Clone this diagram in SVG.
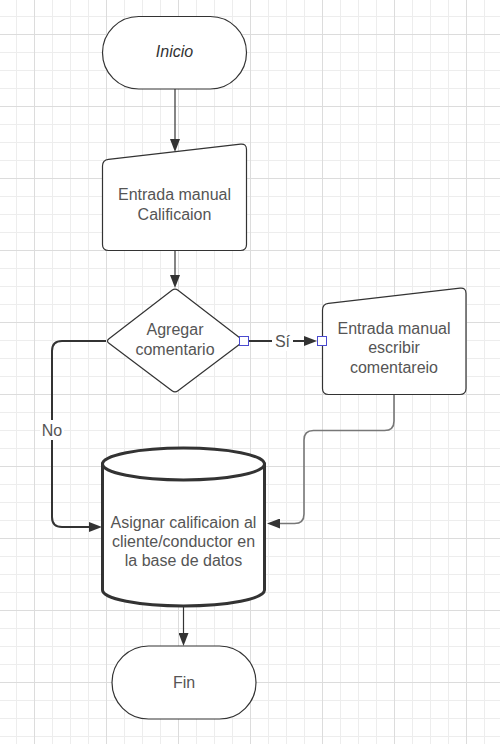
<svg xmlns="http://www.w3.org/2000/svg" width="500" height="744" viewBox="0 0 500 744">
<style>
.shape{fill:#fff;stroke:#333;stroke-width:1.2}
.lbl{font-family:"Liberation Sans",Arial,sans-serif;font-size:16px;fill:#555;text-anchor:middle}
.conn{fill:none;stroke:#333;stroke-width:1.2}
.thick{stroke-width:2}
.grey{stroke:#777;stroke-width:1.6}
.anchor{fill:#fff;stroke:#4a4ad0;stroke-width:1}
</style>
<defs>
<pattern id="grid" x="34" y="34" width="72" height="72" patternUnits="userSpaceOnUse">
<rect x="18" y="0" width="1" height="72" fill="#ededed"/>
<rect x="36" y="0" width="1" height="72" fill="#ededed"/>
<rect x="54" y="0" width="1" height="72" fill="#ededed"/>
<rect x="0" y="18" width="72" height="1" fill="#ededed"/>
<rect x="0" y="36" width="72" height="1" fill="#ededed"/>
<rect x="0" y="54" width="72" height="1" fill="#ededed"/>
<rect x="0" y="0" width="1" height="72" fill="#dcdcdc"/>
<rect x="0" y="0" width="72" height="1" fill="#dcdcdc"/>
</pattern>
<marker id="arr" viewBox="0 0 13 10" refX="10" refY="5" markerWidth="13" markerHeight="10" markerUnits="userSpaceOnUse" orient="auto">
<path d="M0,0 L13,5 L0,10 Z" fill="#333"/>
</marker>
</defs>
<rect width="500" height="744" fill="#fff"/>
<rect width="500" height="744" fill="url(#grid)"/>

<g id="connectors">
<path class="conn" d="M175,89 L175,149" marker-end="url(#arr)"/>
<path class="conn" d="M175,251 L175,285" marker-end="url(#arr)"/>
<path class="conn thick" d="M248.5,341 L314,341" marker-end="url(#arr)"/>
<path class="conn thick" d="M106,341 L62,341 Q52,341 52,351 L52,517 Q52,527 62,527 L99,527" marker-end="url(#arr)"/>
<path class="conn grey" d="M394,395 L394,421 Q394,430.5 384.5,430.5 L313.5,430.5 Q304,430.5 304,440 L304,514 Q304,523.5 294.5,523.5 L270,523.5" marker-end="url(#arr)"/>
<path class="conn" d="M183.5,606 L183.5,643" marker-end="url(#arr)"/>
<rect x="272" y="331" width="21" height="20" fill="#fff"/>
<text class="lbl" x="282.5" y="346.5">Sí</text>
<rect x="40" y="420" width="24" height="20" fill="#fff"/>
<text class="lbl" x="52" y="435.5">No</text>
</g>

<g id="inicio">
<rect class="shape" x="102.5" y="16.5" width="144" height="72.5" rx="36.25"/>
<text class="lbl" x="174.5" y="57" style="font-style:italic;fill:#333">Inicio</text>
</g>

<g id="entrada-calificacion">
<path class="shape" d="M102.5,166 Q102.5,160 108.5,159.3 L240.5,144.2 Q246.5,143.5 246.5,149.5 L246.5,244.5 Q246.5,250.5 240.5,250.5 L108.5,250.5 Q102.5,250.5 102.5,244.5 Z"/>
<text class="lbl" x="174.5" y="200">Entrada manual</text>
<text class="lbl" x="174.5" y="219.5">Calificaion</text>
</g>

<g id="decision">
<path class="shape" d="M172,290.3 Q175,288 178,290.3 L241,338.7 Q244,341 241,343.3 L178,390.7 Q175,393 172,390.7 L109,343.3 Q106,341 109,338.7 Z"/>
<text class="lbl" x="175" y="335">Agregar</text>
<text class="lbl" x="175" y="354.5">comentario</text>
</g>

<g id="entrada-comentario">
<path class="shape" d="M322.5,310 Q322.5,304 328.5,303.3 L460,288.2 Q466,287.5 466,293.5 L466,388.5 Q466,394.5 460,394.5 L328.5,394.5 Q322.5,394.5 322.5,388.5 Z"/>
<text class="lbl" x="394" y="333.5">Entrada manual</text>
<text class="lbl" x="394" y="353">escribir</text>
<text class="lbl" x="394" y="372.5">comentareio</text>
</g>

<g id="base-datos">
<path d="M102.5,464 L102.5,590 A81,16 0 0 0 264.5,590 L264.5,464 Z" fill="#fff" stroke="#333" stroke-width="3"/>
<ellipse cx="183.5" cy="464" rx="81" ry="16" fill="#fff" stroke="#333" stroke-width="3"/>
<text class="lbl" x="183.5" y="527.5">Asignar calificaion al</text>
<text class="lbl" x="183.5" y="547">cliente/conductor en</text>
<text class="lbl" x="183.5" y="566">la base de datos</text>
</g>

<g id="fin">
<rect class="shape" x="112" y="646" width="144" height="73" rx="36.5"/>
<text class="lbl" x="184" y="687.5">Fin</text>
</g>

<g id="anchors">
<rect class="anchor" x="239.5" y="336.5" width="9" height="9"/>
<rect class="anchor" x="317.5" y="336.5" width="9" height="9"/>
</g>
</svg>
